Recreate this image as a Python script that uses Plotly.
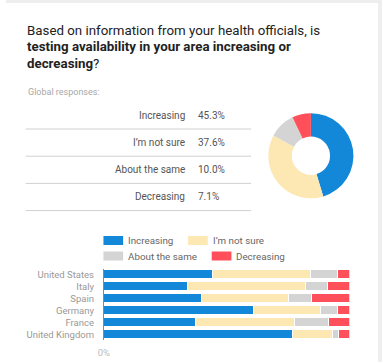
import plotly.graph_objects as go

W, H = 382, 362

responses = ["Increasing", "I’m not sure", "About the same", "Decreasing"]
global_pct = [45.3, 37.6, 10.0, 7.1]
global_labels = ["45.3%", "37.6%", "10.0%", "7.1%"]
colors = ["#1488D8", "#FDE8B4", "#D4D4D4", "#FF4F5A"]

countries = ["United States", "Italy", "Spain", "Germany", "France", "United Kingdom"]
increasing = [44.3, 34.0, 39.7, 60.9, 37.2, 76.9]
not_sure = [39.7, 48.1, 35.6, 27.2, 40.5, 16.3]
same = [11.3, 9.0, 9.2, 7.2, 13.7, 2.5]
decreasing = [4.7, 8.9, 15.5, 4.7, 8.6, 4.3]
country_series = [increasing, not_sure, same, decreasing]

x_ticks = [0]
x_ticktext = ["0%"]

FONT = "Roboto"

def px(x):
    return x / W

def py(y):
    return 1 - y / H

fig = go.Figure()

for name, vals, col in zip(responses, country_series, colors):
    fig.add_trace(go.Bar(
        y=countries, x=vals, name=name, orientation="h",
        marker=dict(color=col, line=dict(color="white", width=1)),
        showlegend=False, hoverinfo="skip",
    ))

fig.add_trace(go.Pie(
    labels=responses, values=global_pct, hole=0.45, sort=False,
    direction="clockwise", rotation=0,
    marker=dict(colors=colors, line=dict(width=0)),
    textinfo="none", showlegend=False, hoverinfo="skip",
    domain=dict(x=[px(266.5), px(353)], y=[py(199), py(112.5)]),
))

annotations = []
shapes = []

# card background bands
shapes.append(dict(type="rect", xref="paper", yref="paper", x0=0, x1=1, y0=py(3), y1=1,
                   fillcolor="#EEEEEE", line=dict(width=0), layer="below"))
shapes.append(dict(type="rect", xref="paper", yref="paper", x0=px(378), x1=1, y0=0, y1=1,
                   fillcolor="#EEEEEE", line=dict(width=0), layer="below"))

# title
title_lines = [
    "Based on information from your health officials, is",
    "<b>testing availability in your area increasing or</b>",
    "<b>decreasing</b>?",
]
for i, t in enumerate(title_lines):
    annotations.append(dict(text=t, xref="paper", yref="paper", x=px(19), y=py(30.5 + i * 16.5),
                            xanchor="left", yanchor="middle", showarrow=False,
                            font=dict(family=FONT, size=13.3, color="#222222")))

annotations.append(dict(text="Global responses:", xref="paper", yref="paper", x=px(20), y=py(92),
                        xanchor="left", yanchor="middle", showarrow=False,
                        font=dict(family=FONT, size=9, color="#A8A8A8")))

row0, pitch = 115, 27.2
for i, (lab, val) in enumerate(zip(responses, global_labels)):
    yc = row0 + i * pitch
    annotations.append(dict(text=lab, xref="paper", yref="paper", x=px(183.5), y=py(yc),
                            xanchor="right", yanchor="middle", showarrow=False,
                            font=dict(family=FONT, size=10, color="#555555")))
    annotations.append(dict(text=val, xref="paper", yref="paper", x=px(193.5), y=py(yc),
                            xanchor="left", yanchor="middle", showarrow=False,
                            font=dict(family=FONT, size=10, color="#555555")))
    yl = yc + 14
    shapes.append(dict(type="line", xref="paper", yref="paper", x0=px(20), x1=px(249),
                       y0=py(yl), y1=py(yl), line=dict(color="#D0D0D0", width=1)))

# legend
legend_pos = [(99, 240.5), (185, 240.5), (99, 256), (209, 256)]
for (lx, ly), name, col in zip(legend_pos, responses, colors):
    shapes.append(dict(type="rect", xref="paper", yref="paper", x0=px(lx), x1=px(lx + 20),
                       y0=py(ly + 4.5), y1=py(ly - 4.5), fillcolor=col, line=dict(width=0)))
    annotations.append(dict(text=name, xref="paper", yref="paper", x=px(lx + 23), y=py(ly),
                            xanchor="left", yanchor="middle", showarrow=False,
                            font=dict(family=FONT, size=9.8, color="#666666")))

fig.update_layout(
    width=W, height=H,
    margin=dict(l=0, r=0, t=0, b=0),
    paper_bgcolor="white", plot_bgcolor="white",
    barmode="stack", bargap=0.25,
    font=dict(family=FONT, color="#999999"),
    xaxis=dict(domain=[px(99.5), px(349)], range=[0, 100], tickvals=x_ticks, ticktext=x_ticktext,
               showgrid=False, zeroline=False, showline=False, ticks="",
               ticklabelstandoff=5,
               tickfont=dict(family=FONT, size=9.5, color="#BBBBBB"), fixedrange=True),
    yaxis=dict(domain=[py(340.2), py(268.5)], autorange="reversed", showgrid=False,
               tickmode="array", tickvals=countries, ticktext=countries,
               zeroline=False, showline=True, linecolor="#888888", linewidth=1, ticks="",
               ticklabelstandoff=7,
               tickfont=dict(family=FONT, size=9.5, color="#999999"), fixedrange=True),
    annotations=annotations, shapes=shapes,
)

fig.write_html("out.html", config={"displayModeBar": False},
               post_script="document.body.style.margin='0';document.body.style.padding='0';document.documentElement.style.overflow='hidden';")
